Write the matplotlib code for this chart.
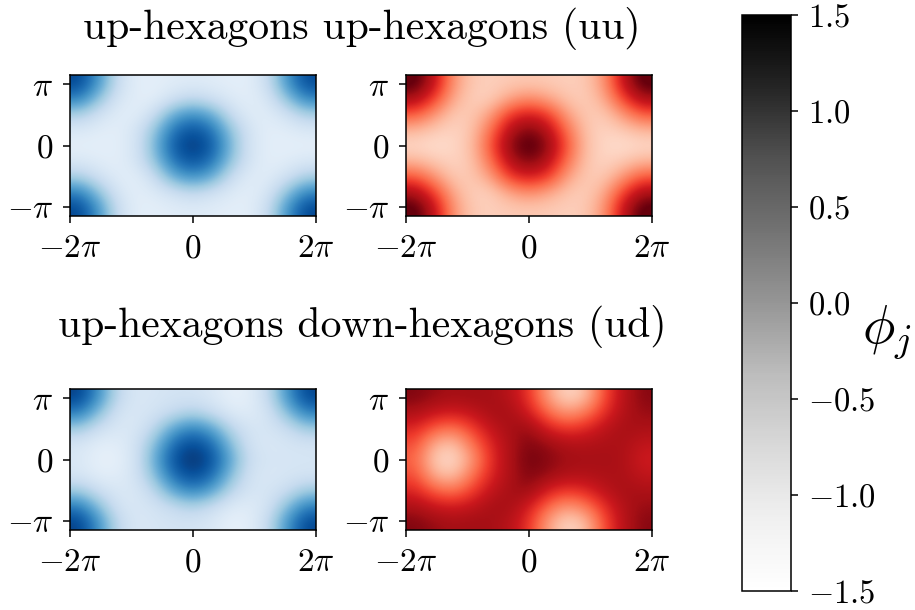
import numpy as np
import matplotlib
matplotlib.use("Agg")
import matplotlib.pyplot as plt
from matplotlib.cm import ScalarMappable
from matplotlib.colors import Normalize

plt.rcParams['mathtext.fontset'] = 'cm'
plt.rcParams['font.family'] = ['cmr10', 'DejaVu Sans']
plt.rcParams['axes.formatter.use_mathtext'] = True

# values, rows go top to bottom
uu_blue = [
    [1.25, 0.35, -0.80, -1.20, -1.20, -1.15, -1.12, -1.15, -1.20, -1.20, -0.80, 0.35, 1.20],
    [0.60, -0.25, -1.00, -1.18, -1.20, -0.90, -0.70, -0.90, -1.10, -1.20, -1.00, -0.25, 0.55],
    [-0.50, -0.90, -1.15, -1.20, -0.80, 0.05, 0.40, 0.05, -0.80, -1.15, -1.15, -0.90, -0.50],
    [-1.05, -1.15, -1.20, -1.00, -0.30, 0.75, 1.15, 0.75, -0.30, -1.00, -1.20, -1.15, -1.05],
    [-1.22, -1.22, -1.20, -1.00, -0.10, 1.05, 1.40, 1.05, -0.10, -1.00, -1.20, -1.22, -1.22],
    [-1.05, -1.15, -1.20, -1.00, -0.30, 0.75, 1.15, 0.75, -0.30, -1.00, -1.20, -1.15, -1.05],
    [-0.50, -0.90, -1.15, -1.20, -0.80, 0.05, 0.40, 0.05, -0.80, -1.15, -1.15, -0.90, -0.50],
    [0.60, -0.25, -1.00, -1.20, -1.10, -0.90, -0.70, -0.90, -1.10, -1.20, -1.00, -0.25, 0.55],
    [1.25, 0.35, -0.80, -1.20, -1.20, -1.15, -1.12, -1.15, -1.20, -1.20, -0.80, 0.35, 1.25],
]
uu_red = [
    [1.65, 0.90, -0.40, -0.90, -0.95, -0.90, -0.88, -0.90, -0.95, -0.90, -0.40, 0.90, 1.65],
    [1.10, 0.35, -0.60, -0.95, -0.95, -0.55, -0.30, -0.55, -0.85, -0.95, -0.60, 0.35, 1.10],
    [0.15, -0.40, -0.90, -0.90, -0.50, 0.40, 0.70, 0.40, -0.50, -0.90, -0.90, -0.40, 0.15],
    [-0.70, -0.90, -1.00, -0.85, -0.05, 1.00, 1.40, 1.00, -0.05, -0.85, -1.00, -0.90, -0.70],
    [-1.05, -1.10, -1.05, -0.80, 0.20, 1.30, 1.70, 1.30, 0.20, -0.80, -1.05, -1.10, -1.05],
    [-0.70, -0.90, -1.00, -0.85, -0.05, 1.00, 1.40, 1.00, -0.05, -0.85, -1.00, -0.90, -0.70],
    [0.15, -0.40, -0.90, -0.90, -0.50, 0.40, 0.70, 0.40, -0.50, -0.90, -0.90, -0.40, 0.15],
    [1.10, 0.35, -0.60, -0.95, -0.95, -0.55, -0.30, -0.55, -0.85, -0.95, -0.60, 0.35, 1.10],
    [1.65, 0.90, -0.40, -0.90, -0.95, -0.90, -0.88, -0.90, -0.95, -0.90, -0.40, 0.90, 1.65],
]
ud_blue = [
    [1.30, 0.40, -0.70, -1.05, -1.00, -0.95, -0.95, -1.05, -1.25, -1.20, -0.75, 0.35, 1.25],
    [0.65, -0.20, -0.95, -1.05, -0.95, -0.75, -0.55, -0.80, -1.10, -1.15, -0.95, -0.20, 0.60],
    [-0.40, -0.85, -1.05, -1.05, -0.65, 0.15, 0.55, 0.15, -0.65, -1.00, -1.00, -0.80, -0.40],
    [-1.00, -1.18, -1.18, -0.95, -0.20, 0.85, 1.25, 0.85, -0.20, -0.95, -1.05, -1.00, -0.95],
    [-1.05, -1.25, -1.25, -0.95, 0.05, 1.15, 1.50, 1.15, 0.10, -0.85, -1.00, -1.00, -1.00],
    [-1.00, -1.18, -1.18, -0.95, -0.20, 0.85, 1.25, 0.85, -0.20, -0.95, -1.05, -1.00, -0.95],
    [-0.40, -0.85, -1.05, -1.05, -0.65, 0.15, 0.55, 0.15, -0.65, -1.00, -1.00, -0.80, -0.40],
    [0.65, -0.20, -0.95, -1.05, -0.95, -0.75, -0.55, -0.80, -1.10, -1.15, -0.95, -0.20, 0.60],
    [1.30, 0.40, -0.70, -1.05, -1.00, -0.95, -0.95, -1.05, -1.25, -1.20, -0.75, 0.35, 1.25],
]
ud_red = [
    [1.35, 1.20, 1.10, 1.15, 1.10, 0.95, 0.45, -0.50, -1.05, -0.80, 0.25, 0.95, 1.30],
    [1.05, 0.80, 0.70, 0.85, 1.10, 1.10, 0.70, 0.00, -0.45, -0.15, 0.50, 1.00, 1.20],
    [0.60, 0.10, -0.10, 0.35, 0.85, 1.10, 1.20, 0.65, 0.40, 0.55, 0.90, 1.10, 1.05],
    [0.25, -0.65, -0.85, -0.10, 0.60, 1.05, 1.35, 1.20, 1.00, 1.00, 1.05, 1.05, 0.85],
    [0.05, -0.95, -1.10, -0.45, 0.50, 1.05, 1.45, 1.30, 1.15, 1.10, 1.10, 1.05, 0.70],
    [0.25, -0.65, -0.85, -0.10, 0.60, 1.05, 1.35, 1.20, 1.00, 1.00, 1.05, 1.05, 0.85],
    [0.60, 0.10, -0.10, 0.35, 0.85, 1.10, 1.20, 0.65, 0.40, 0.55, 0.90, 1.10, 1.05],
    [1.05, 0.80, 0.70, 0.85, 1.10, 1.10, 0.70, 0.00, -0.45, -0.15, 0.50, 1.00, 1.20],
    [1.35, 1.20, 1.10, 1.15, 1.10, 0.95, 0.45, -0.50, -1.05, -0.80, 0.25, 0.95, 1.30],
]

x_ticks = [-2 * np.pi, 0, 2 * np.pi]
x_labels = [r'$-2\pi$', r'$0$', r'$2\pi$']
y_ticks = [-np.pi, 0, np.pi]
y_labels = [r'$-\pi$', r'$0$', r'$\pi$']
cbar_ticks = [-1.5, -1.0, -0.5, 0.0, 0.5, 1.0, 1.5]
cbar_labels = [r'$-1.5$', r'$-1.0$', r'$-0.5$', r'$0.0$', r'$0.5$', r'$1.0$', r'$1.5$']

W, H = 915, 610


def px_axes(fig, left, top, right, bottom):
    return fig.add_axes([left / W, 1 - bottom / H, (right - left) / W, (bottom - top) / H])


def panel(fig, box, data, cmap):
    ax = px_axes(fig, *box)
    ax.imshow(data, cmap=cmap, vmin=-1.5, vmax=1.5, interpolation='bicubic',
              interpolation_stage='data', extent=[-2 * np.pi, 2 * np.pi, -3.63, 3.63],
              aspect='auto')
    ax.set_xticks(x_ticks)
    ax.set_xticklabels(x_labels)
    ax.set_yticks(y_ticks)
    ax.set_yticklabels(y_labels)
    ax.tick_params(axis='x', labelsize=24, length=5, width=1.1, pad=8)
    ax.tick_params(axis='y', labelsize=24, length=5, width=1.1, pad=7)
    for s in ax.spines.values():
        s.set_linewidth(1.1)
    return ax


fig = plt.figure(figsize=(W / 100, H / 100), dpi=100)

panel(fig, (70, 75, 316, 216), uu_blue, 'Blues')
panel(fig, (406, 75, 652, 216), uu_red, 'Reds')
panel(fig, (70, 389, 316, 530), ud_blue, 'Blues')
panel(fig, (406, 389, 652, 530), ud_red, 'Reds')

fig.text(361.5 / W, 1 - 28 / H, 'up-hexagons up-hexagons (uu)', fontsize=30, ha='center', va='center')
fig.text(362 / W, 1 - 327 / H, 'up-hexagons down-hexagons (ud)', fontsize=30, ha='center', va='center')

cax = px_axes(fig, 742, 15, 791, 591)
cb = fig.colorbar(ScalarMappable(Normalize(-1.5, 1.5), 'Greys'), cax=cax)
cb.set_ticks(cbar_ticks)
cb.set_ticklabels(cbar_labels)
cb.ax.tick_params(labelsize=23.5, length=5, width=1.1, pad=7)
cb.outline.set_linewidth(1.1)
cb.set_label(r'$\phi_j$', fontsize=39, rotation=0, labelpad=8)

fig.savefig('out.png', dpi=100)
